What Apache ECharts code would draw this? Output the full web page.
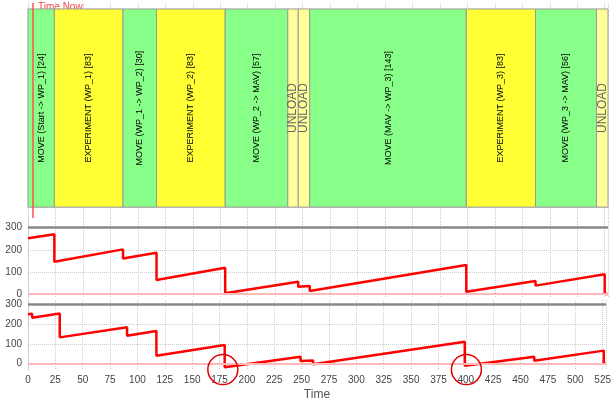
<!DOCTYPE html>
<html>
<head>
<meta charset="utf-8">
<script src="https://cdn.jsdelivr.net/npm/echarts@6/dist/echarts.min.js"></script>
<style>
html,body{margin:0;padding:0;background:#fff}
#main{width:614px;height:405px}
</style>
</head>
<body>
<div id="main"></div>
<script>
// plan blocks
var taskNames = ['MOVE (Start -> WP_1) [24]', 'EXPERIMENT (WP_1) [83]', 'MOVE (WP_1 -> WP_2) [30]',
    'EXPERIMENT (WP_2) [83]', 'MOVE (WP_2 -> MAV) [57]', 'UNLOAD', 'UNLOAD',
    'MOVE (MAV -> WP_3) [143]', 'EXPERIMENT (WP_3) [83]', 'MOVE (WP_3 -> MAV) [56]', 'UNLOAD'];
var taskKinds = ['move', 'exp', 'move', 'exp', 'move', 'unload', 'unload', 'move', 'exp', 'move', 'unload'];
var taskStart = [0, 24, 86.5, 117, 179.5, 236.5, 246, 256.5, 399, 462, 517.5];
var taskEnd = [24, 86.5, 117, 179.5, 236.5, 246, 256.5, 399, 462, 517.5, 528];
var timeNow = 4.5;

// resource level, upper plot
var timeA = [0, 24, 24, 86.5, 86.5, 117, 117, 179.5, 179.5, 246, 246, 256.5, 256.5, 399, 399, 462, 462, 525, 525, 528];
var levelA = [252, 270, 146, 202, 161, 187, 63, 119, 3, 56, 33, 36, 14, 131, 10, 59, 38, 89, 0, 0];

// resource level, lower plot
var timeB = [0, 3.8, 3.8, 29, 29, 90.5, 90.5, 117.3, 117.3, 179.7, 179.7, 249, 249, 260.5, 260.5, 399, 399, 462.5, 462.5, 526, 526, 528];
var levelB = [250, 253, 232, 254, 133, 184, 141, 165, 40, 94, -18, 35, 14, 16, -3, 111, -10, 35, 15, 66, -1, -1];

// circled points
var markTime = [178, 400.5];
var markLevel = [-30, -30];

var levelTicks = [0, 100, 200, 300];
var capacity = 300;

var kindColor = {move: '#88ff88', exp: '#ffff33', unload: '#ffff99'};
var font = 'Liberation Sans, Arial, sans-serif';

var chart = echarts.init(document.getElementById('main'));

function renderTask(params, api) {
    var i = params.dataIndex;
    var p0 = api.coord([api.value(0), 1]);
    var p1 = api.coord([api.value(1), 0]);
    var unload = taskKinds[i] === 'unload';
    return {
        type: 'group',
        children: [{
            type: 'rect',
            shape: {x: p0[0], y: p0[1], width: p1[0] - p0[0], height: p1[1] - p0[1]},
            style: {fill: kindColor[taskKinds[i]], stroke: '#999', lineWidth: 1}
        }, {
            type: 'text',
            x: (p0[0] + p1[0]) / 2,
            y: (p0[1] + p1[1]) / 2,
            rotation: Math.PI / 2,
            style: {
                text: taskNames[i],
                align: 'center',
                verticalAlign: 'middle',
                fill: unload ? '#666' : '#000',
                font: unload ? '12px Liberation Sans Narrow, Arial Narrow, sans-serif' : '9px ' + font
            }
        }]
    };
}

var dotted = {show: true, lineStyle: {type: 'dotted', color: '#ccc'}};

option = {
    animation: false,
    grid: [
        {left: 28, right: 6, top: 3, height: 215},
        {left: 28, right: 6, top: 218, height: 80},
        {left: 28, right: 6, top: 300, height: 70}
    ],
    graphic: [{
        type: 'text', left: 38, top: 2,
        style: {text: 'Time Now', fill: '#ff4040', font: '10px ' + font}
    }],
    xAxis: [
        {gridIndex: 0, type: 'value', position: 'top', min: 0, max: 528, interval: 25,
            axisLine: {show: true, lineStyle: {color: '#ddd'}}, axisTick: {show: false},
            axisLabel: {show: false}, splitLine: dotted},
        {gridIndex: 1, type: 'value', min: 0, max: 528, interval: 25,
            axisLine: {show: false}, axisTick: {show: false},
            axisLabel: {show: false}, splitLine: dotted},
        {gridIndex: 2, type: 'value', min: 0, max: 528, interval: 25,
            axisLine: {show: true, lineStyle: {color: '#ccc'}}, axisTick: {show: false},
            axisLabel: {color: '#444', fontSize: 10, fontFamily: font, margin: 5, showMaxLabel: false},
            name: 'Time', nameLocation: 'middle', nameGap: 19,
            nameTextStyle: {color: '#555', fontSize: 12, fontFamily: font},
            splitLine: dotted}
    ],
    yAxis: [
        {gridIndex: 0, type: 'value', min: -0.055, max: 1.03,
            axisLine: {show: true, lineStyle: {color: '#ddd'}}, axisTick: {show: false},
            axisLabel: {show: false}, splitLine: {show: false}},
        {gridIndex: 1, type: 'value', min: -18, max: 344,
            axisLine: {show: true, lineStyle: {color: '#ccc'}},
            axisTick: {show: false, customValues: levelTicks},
            axisLabel: {customValues: levelTicks, color: '#444', fontSize: 10, fontFamily: font, margin: 6},
            splitLine: dotted},
        {gridIndex: 2, type: 'value', min: -32, max: 322,
            axisLine: {show: true, lineStyle: {color: '#ccc'}},
            axisTick: {show: false, customValues: levelTicks},
            axisLabel: {customValues: levelTicks, color: '#444', fontSize: 10, fontFamily: font, margin: 6},
            splitLine: dotted}
    ],
    series: [
        {
            type: 'custom',
            xAxisIndex: 0, yAxisIndex: 0,
            renderItem: renderTask,
            encode: {x: [0, 1]},
            data: taskStart.map(function (s, i) { return [s, taskEnd[i]]; }),
            markLine: {
                silent: true, symbol: 'none', label: {show: false},
                lineStyle: {color: '#ff5050', width: 1.5, type: 'solid'},
                data: [{xAxis: timeNow}]
            }
        },
        {
            type: 'line',
            xAxisIndex: 1, yAxisIndex: 1,
            showSymbol: false,
            lineStyle: {color: '#ff0000', width: 2.5},
            data: timeA.map(function (t, i) { return [t, levelA[i]]; }),
            markLine: {
                silent: true, symbol: 'none', label: {show: false},
                data: [
                    {yAxis: 0, lineStyle: {color: '#ffb8b8', width: 2, type: 'solid'}},
                    {yAxis: capacity, lineStyle: {color: '#888', width: 2.5, type: 'solid'}}
                ]
            },
            z: 3
        },
        {
            type: 'line',
            xAxisIndex: 2, yAxisIndex: 2,
            showSymbol: false,
            lineStyle: {color: '#ff0000', width: 2.5},
            data: timeB.map(function (t, i) { return [t, levelB[i]]; }),
            markLine: {
                silent: true, symbol: 'none', label: {show: false},
                data: [
                    {yAxis: 0, lineStyle: {color: '#ffb8b8', width: 2, type: 'solid'}},
                    {yAxis: capacity, lineStyle: {color: '#888', width: 2.5, type: 'solid'}}
                ]
            },
            markPoint: {
                silent: true, symbol: 'circle', symbolSize: 30, label: {show: false},
                itemStyle: {color: 'rgba(0,0,0,0)', borderColor: '#e00000', borderWidth: 1.5},
                data: markTime.map(function (t, i) { return {coord: [t, markLevel[i]]}; })
            },
            z: 3
        }
    ]
};
chart.setOption(option);
</script>
</body>
</html>
